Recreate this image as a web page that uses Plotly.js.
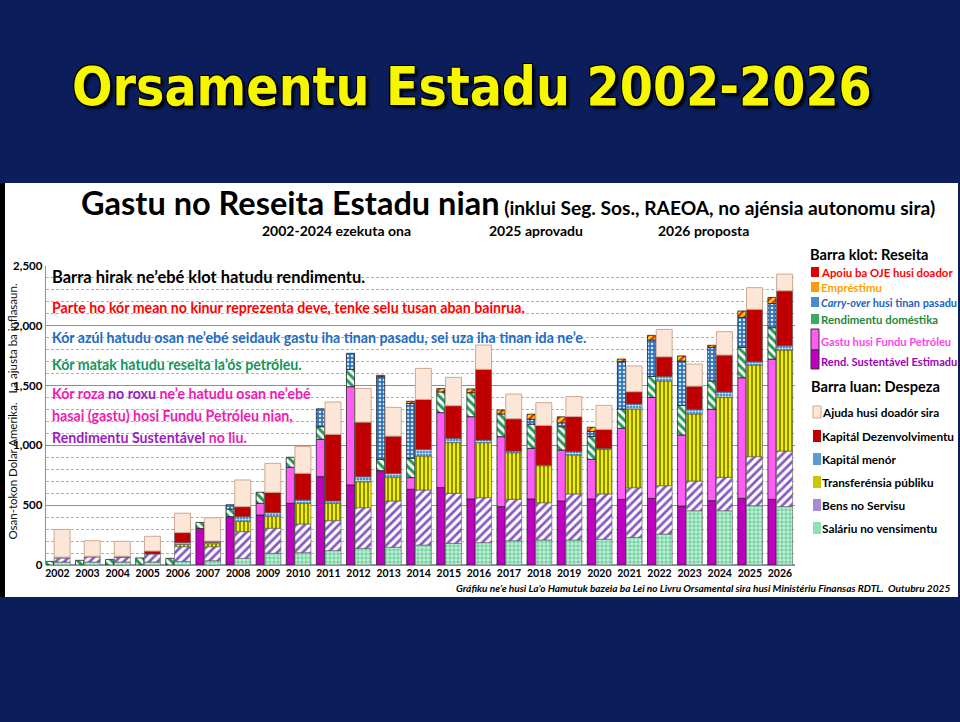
<!DOCTYPE html>
<html><head><meta charset="utf-8">
<script src="https://cdn.plot.ly/plotly-3.0.1.min.js"></script>
<style>html,body{margin:0;padding:0;background:#0b1e5b;overflow:hidden}#chart{width:960px;height:722px}</style>
</head><body><div id="chart"></div>
<script>
// ---------- DATA (US$ millions, inflation-adjusted) ----------
const years = [2002,2003,2004,2005,2006,2007,2008,2009,2010,2011,2012,2013,2014,2015,2016,2017,2018,2019,2020,2021,2022,2023,2024,2025,2026];
const yearLabels = years.map(String);

// Receipts (narrow bars), bottom to top
const sustainableIncome = [0,0,0,0,0,306,404,418,516,738,669,789,633,647,552,488,552,535,552,549,557,493,538,557,549];
const petroleumFundExtra = [0,0,0,0,0,0,0,98,301,312,822,0,98,627,688,585,424,426,332,594,844,594,764,1009,1173];
const domesticRevenue = [30,39,47,59,56,50,64,92,84,106,145,95,161,173,201,190,201,195,190,161,176,248,237,254,262];
const carryOver = [0,0,0,0,0,0,36,0,0,150,134,691,460,0,0,0,42,33,42,396,304,371,281,251,203];
const loans = [0,0,0,0,0,0,0,0,0,0,0,11,17,28,31,33,42,50,36,22,39,42,17,53,50];
const donorBudgetSupport = [0,0,0,0,0,0,0,0,0,0,0,0,0,0,0,0,0,0,0,0,0,0,0,0,0];

// Expenditures (wide bars), bottom to top
const salaries = [25,25,25,25,30,36,56,98,103,120,139,148,167,181,187,203,209,209,215,231,259,454,454,496,488];
const goodsServices = [33,42,40,67,123,117,223,209,240,251,340,387,460,418,376,346,312,385,379,415,404,248,279,410,465];
const transfers = [0,0,0,0,20,25,86,98,173,145,217,198,284,424,460,390,309,326,373,658,875,560,669,766,844];
const minorCapital = [8,6,0,0,14,11,39,33,28,20,42,33,56,36,22,14,5,28,8,42,39,39,45,28,36];
const devCapital = [0,0,8,25,84,11,84,170,223,557,457,312,418,273,591,270,332,293,159,103,164,195,309,438,460];
const donorAid = [231,130,125,123,162,195,223,242,223,270,281,240,259,237,203,206,190,167,201,215,229,184,195,181,139];

// ---------- GEOMETRY ----------
const L=46, R=795, T=266, B=565, W=R-L, H=B-T;
const X = px => (px-L)/W, Y = py => (B-py)/H;
const FONT = 'Lato';

function stack(series, opts){
  const traces=[]; const base = years.map(()=>0);
  series.forEach(s=>{
    const b = base.slice();
    traces.push({
      type:'bar', x:years, y:s.data.map(v=>v>0?v:null), base:b,
      offset:opts.offset, width:opts.width, name:s.name, hoverinfo:'x+y+name',
      marker:Object.assign({line:{color:opts.line, width:opts.lw}}, s.marker)
    });
    s.data.forEach((v,i)=>base[i]+=v);
  });
  return traces;
}

const receipts = stack([
  {name:'Rend. Sustentável Estimadu', data:sustainableIncome, marker:{color:'#c000c0'}},
  {name:'Gastu husi Fundu Petróleu', data:petroleumFundExtra, marker:{color:'#ff5cf5'}},
  {name:'Rendimentu doméstika', data:domesticRevenue, marker:{color:'#ffffff', pattern:{shape:'\\', fgcolor:'#1f9e55', bgcolor:'#ffffff', size:6, solidity:0.5, fillmode:'replace'}}},
  {name:'Carry-over husi tinan pasadu', data:carryOver, marker:{color:'#3a7fc4', pattern:{shape:'.', fgcolor:'#d6e8fa', bgcolor:'#2f74bd', size:4, solidity:0.3, fillmode:'replace'}}},
  {name:'Empréstimu', data:loans, marker:{color:'#ffcc00', pattern:{shape:'/', fgcolor:'#e02020', bgcolor:'#ffd700', size:5, solidity:0.45, fillmode:'replace'}}},
  {name:'Apoiu ba OJE husi doador', data:donorBudgetSupport, marker:{color:'#e00000'}}
], {offset:-0.40, width:0.27, line:'#222222', lw:0.8});

const expenditures = stack([
  {name:'Saláriu no vensimentu', data:salaries, marker:{color:'#8fe0b8', pattern:{shape:'+', fgcolor:'#ffffff', bgcolor:'#72d4a0', size:4, solidity:0.3, fillmode:'replace'}}},
  {name:'Bens no Servisu', data:goodsServices, marker:{color:'#ffffff', pattern:{shape:'/', fgcolor:'#8458c4', bgcolor:'#ffffff', size:6, solidity:0.45, fillmode:'replace'}}},
  {name:'Transferénsia públiku', data:transfers, marker:{color:'#eaea00', pattern:{shape:'|', fgcolor:'#4a4a00', bgcolor:'#f2f200', size:4, solidity:0.3, fillmode:'replace'}}},
  {name:'Kapitál menór', data:minorCapital, marker:{color:'#5b9bd5', pattern:{shape:'+', fgcolor:'#ffffff', bgcolor:'#4a90d4', size:3, solidity:0.3, fillmode:'replace'}}},
  {name:'Kapitál Dezenvolvimentu', data:devCapital, marker:{color:'#c00000'}},
  {name:'Ajuda husi doadór sira', data:donorAid, marker:{color:'#fce6d8', line:{color:'#cfa890', width:1}}}
], {offset:-0.11, width:0.53, line:'#555555', lw:0.6});

// ---------- TEXT ----------
const ann = [];
function A(text, px, py, size, color, opt){
  ann.push(Object.assign({xref:'paper', yref:'paper', x:X(px), y:Y(py), text:text, showarrow:false,
    xanchor:'left', yanchor:'middle', font:{family:FONT, size:size, color:color||'#000'}}, opt||{}));
}
// Slide title
ann.push({xref:'paper', yref:'paper', x:X(472), y:Y(86), xanchor:'center', yanchor:'middle', showarrow:false,
  text:'<b>Orsamentu Estadu 2002-2026</b>',
  font:{family:'DejaVu Sans Condensed', size:53, color:'#f6f600',
    shadow:'-1px -1px 0 #000, 1px -1px 0 #000, -1px 1px 0 #000, 1px 1px 0 #000, 3px 3px 3px #000'}});
// Chart title
A('<b>Gastu no Reseita Estadu nian</b><span style="font-size:19.2px"><b> (inklui Seg. Sos., RAEOA, no ajénsia autonomu sira)</b></span>', 79, 203, 32.5, '#000');
A('<b>2002-2024 ezekuta ona</b>', 336, 230, 14, '#000', {xanchor:'center'});
A('<b>2025 aprovadu</b>', 536, 230, 14, '#000', {xanchor:'center'});
A('<b>2026 proposta</b>', 703, 230, 14, '#000', {xanchor:'center'});
// Notes inside the plot
A('<b>Barra hirak ne’ebé klot hatudu rendimentu.</b>', 50, 277, 16.5, '#000');
A('<b>Parte ho kór mean no kinur reprezenta deve, tenke selu tusan aban bainrua.</b>', 50, 307, 14.2, '#ff0000');
A('<b>Kór azúl hatudu osan ne’ebé seidauk gastu iha tinan pasadu, sei uza iha tinan ida ne’e.</b>', 50, 337, 14.2, '#1f6cc0');
A('<b>Kór matak hatudu reseita la’ós petróleu.</b>', 50, 364, 14.2, '#14955a');
A('<b><span style="color:#f01ab4">Kór roza</span> <span style="color:#9a1cc0">no roxu</span> ne’e hatudu osan ne’ebé</b>', 50, 393, 14.2, '#f01ab4');
A('<b>hasai (gastu) hosi Fundu Petróleu nian,</b>', 50, 415, 14.2, '#f01ab4');
A('<b><span style="color:#9a1cc0">Rendimentu Sustentável</span> no liu.</b>', 50, 437, 14.2, '#f01ab4');
// Y-axis title
ann.push({xref:'paper', yref:'paper', x:X(11.5), y:Y(412), textangle:-90, xanchor:'center', yanchor:'middle', showarrow:false,
  text:'Osan-tokon Dolar Amerika.   La ajusta ba inflasaun.', font:{family:FONT, size:11.5, color:'#111'}});
// Source
A('<b><i>Gráfiku ne’e husi La’o Hamutuk bazeia ba Lei no Livru Orsamental sira husi Ministériu Finansas RDTL.  Outubru 2025</i></b>', 952, 588, 10.1, '#000', {xanchor:'right'});

// Legend (custom)
const shapes = [];
function S(x0,y0,x1,y1,fill,line){
  shapes.push({type:'rect', xref:'paper', yref:'paper', x0:X(x0), x1:X(x1), y0:Y(y1), y1:Y(y0),
    fillcolor:fill, line:{color:line||'rgba(0,0,0,0)', width:line?1:0}, layer:'above'});
}
A('<b>Barra klot: Reseita</b>', 808, 254, 14.6, '#000');
const legR = [
  ['<b>Apoiu ba OJE husi doador</b>', '#ff0000', 272, '#e00000', 11.4],
  ['<b>Empréstimu</b>', '#ff9f00', 287, '#ff9a10', 11.4],
  ['<b><i>Carry-over</i> husi tinan pasadu</b>', '#1f5fc8', 302, '#4a8ad0', 10.9],
  ['<b>Rendimentu doméstika</b>', '#1e8a3a', 319, '#3aaa66', 11.4]
];
legR.forEach(r=>{ A(r[0], 819, r[2], r[4], r[1]); S(811, r[2]-5, 819, r[2]+5, r[3]); });
S(811, 329, 819, 350, '#ff5cf5', '#333');
S(811, 350, 819, 369, '#c000c0', '#333');
A('<b>Gastu husi Fundu Petróleu</b>', 819, 341, 11.1, '#ff44e8');
A('<b>Rend. Sustentável Estimadu</b>', 819, 361, 11.1, '#a000b4');
A('<b>Barra luan: Despeza</b>', 809, 386, 14.6, '#000');
const legE = [
  ['Ajuda husi doadór sira', 412, '#fce6d8', '#cfa890'],
  ['Kapitál Dezenvolvimentu', 436, '#c00000'],
  ['Kapitál menór', 459, '#5b9bd5'],
  ['Transferénsia públiku', 482, '#c8c800'],
  ['Bens no Servisu', 505, '#a88ad8'],
  ['Saláriu no vensimentu', 528, '#8fe0b8']
];
legE.forEach(r=>{ A('<b>'+r[0]+'</b>', 820, r[1], 11.8, '#000'); S(813, r[1]-6, 821, r[1]+6, r[2], r[3]); });

// White panel
shapes.push({type:'rect', xref:'paper', yref:'paper', x0:X(5), x1:X(958), y0:Y(597), y1:Y(183), fillcolor:'#ffffff', line:{width:0}, layer:'below'});
shapes.push({type:'rect', xref:'paper', yref:'paper', x0:X(0), x1:X(5), y0:Y(597), y1:Y(183), fillcolor:'#000000', line:{width:0}, layer:'below'});

const layout = {
  width:960, height:722, margin:{l:L, r:960-R, t:T, b:722-B},
  paper_bgcolor:'#0b1e5b', plot_bgcolor:'#ffffff', barmode:'overlay', showlegend:false,
  xaxis:{range:[2001.62, 2026.5], tickmode:'array', tickvals:years, ticktext:yearLabels, showgrid:false, zeroline:false,
    tickfont:{family:FONT, size:10.5, color:'#000', weight:'bold'}, ticks:'', showline:false},
  yaxis:{range:[0,2500], tickmode:'linear', tick0:0, dtick:500, tickformat:',', showgrid:true, gridcolor:'#8093b0', gridwidth:1.3,
    zeroline:true, zerolinecolor:'#8093b0', zerolinewidth:1.3, showline:true, linecolor:'#8093b0', linewidth:1.3,
    tickfont:{family:FONT, size:11.5, color:'#000', weight:'bold'}, ticks:'', ticklen:0,
    minor:{tick0:0, dtick:100, showgrid:true, gridcolor:'#6cc8ee', griddash:'3px,2px', gridwidth:1}},
  annotations:ann, shapes:shapes
};
Plotly.newPlot('chart', receipts.concat(expenditures), layout, {displayModeBar:false, staticPlot:true});
</script></body></html>
